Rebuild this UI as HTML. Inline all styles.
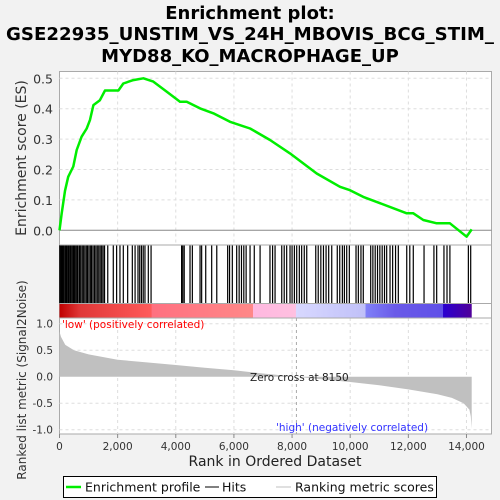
<!DOCTYPE html>
<html><head><meta charset="utf-8"><style>
html,body{margin:0;padding:0;background:#f2f2f2;}
svg{display:block;font-family:"DejaVu Sans","Liberation Sans",sans-serif;}
</style></head><body>
<svg id="c" width="500" height="500" xmlns="http://www.w3.org/2000/svg">
<rect x="0" y="0" width="500" height="500" fill="#f2f2f2"/>
<g font-weight="bold" font-size="18" text-anchor="middle" fill="#000">
<text x="250" y="19">Enrichment plot:</text>
<text x="250" y="40" textLength="488" lengthAdjust="spacingAndGlyphs">GSE22935_UNSTIM_VS_24H_MBOVIS_BCG_STIM_</text>
<text x="250" y="62">MYD88_KO_MACROPHAGE_UP</text>
</g>
<rect x="59.5" y="71.5" width="432" height="362.5" fill="#fff" stroke="#aaa"/>
<g id="grid"></g>
<g id="hits"></g>
<defs><linearGradient id="cb" x1="0" x2="1" y1="0" y2="0">
<stop offset="0" stop-color="#c00000"/><stop offset="0.05" stop-color="#e03838"/><stop offset="0.223" stop-color="#ff5a5a"/>
<stop offset="0.224" stop-color="#ff7080"/><stop offset="0.469" stop-color="#ff8888"/>
<stop offset="0.47" stop-color="#ffb8e0"/><stop offset="0.573" stop-color="#ffc0e0"/>
<stop offset="0.574" stop-color="#d8d8ff"/><stop offset="0.742" stop-color="#c0c0f8"/>
<stop offset="0.743" stop-color="#8080f8"/><stop offset="0.815" stop-color="#6a5ae8"/><stop offset="0.93" stop-color="#6050e8"/>
<stop offset="0.931" stop-color="#2a00d0"/><stop offset="1" stop-color="#500099"/>
</linearGradient></defs>
<rect id="cbar" y="303.5" height="14.5" fill="url(#cb)"/>
<line x1="59.5" x2="491.5" y1="245" y2="245" stroke="#aaa"/>
<line x1="59.5" x2="491.5" y1="303.5" y2="303.5" stroke="#aaa"/>
<line x1="59.5" x2="491.5" y1="318" y2="318" stroke="#aaa"/>
<path id="metric" fill="#c0c0c0"/>
<line id="zline" y1="318" y2="434" stroke="#aaa" stroke-dasharray="3,3"/>
<line x1="59.5" x2="491.5" y1="230.3" y2="230.3" stroke="#888"/>
<polyline id="es" fill="none" stroke="#00ee00" stroke-width="2.5" stroke-linejoin="round"/>
<g id="ax" font-size="13" fill="#333"></g>
<text x="62" y="328" font-size="10.5" fill="#ff0000">'low' (positively correlated)</text>
<text x="250" y="381" font-size="10.5" fill="#222">Zero cross at 8150</text>
<text x="276" y="431" font-size="10.5" fill="#3333ff">'high' (negatively correlated)</text>
<text x="275" y="466" font-size="14" text-anchor="middle" fill="#222">Rank in Ordered Dataset</text>
<text transform="translate(26,158) rotate(-90)" font-size="14" text-anchor="middle" fill="#333">Enrichment score (ES)</text>
<text transform="translate(26,380) rotate(-90)" font-size="12" text-anchor="middle" fill="#333">Ranked list metric (Signal2Noise)</text>
<g>
<rect x="63.5" y="476.5" width="373" height="21" fill="#fff" stroke="#000"/>
<line x1="66" x2="81" y1="487" y2="487" stroke="#00ee00" stroke-width="2.5"/>
<text x="85" y="491.5" font-size="12.5" fill="#111">Enrichment profile</text>
<line x1="205" x2="219" y1="487" y2="487" stroke="#000"/>
<text x="222" y="491.5" font-size="12.5" fill="#111">Hits</text>
<line x1="276" x2="291" y1="487" y2="487" stroke="#c0c0c0"/>
<text x="295" y="491.5" font-size="12.5" fill="#111">Ranking metric scores</text>
</g>
</svg>
<script>
const esRanks=[0,75,190,300,475,590,760,935,1050,1165,1390,1565,2025,2195,2540,2885,3225,3690,4145,4375,4835,5290,5865,6555,7240,7930,8848,9650,9993,10450,11025,11945,12170,12515,12975,13430,14005,14180];
const esValues=[0,0.056,0.13,0.176,0.21,0.264,0.308,0.335,0.363,0.412,0.428,0.46,0.46,0.483,0.494,0.5,0.489,0.456,0.423,0.423,0.401,0.385,0.357,0.335,0.297,0.253,0.187,0.143,0.132,0.11,0.089,0.056,0.056,0.034,0.023,0.023,-0.021,0.003];
const hitRanks=[10,40,70,100,130,160,200,230,260,300,330,370,400,440,480,520,560,600,640,690,730,780,820,870,920,960,1010,1060,1100,1150,1200,1250,1300,1350,1400,1450,1500,1550,1660,1850,1965,2080,2195,2345,2505,2600,2700,2760,2820,2880,2940,3055,3150,4200,4240,4290,4490,4570,4835,4890,5030,5235,5410,5785,5850,5945,6095,6180,6260,6340,6420,6555,6700,6900,7240,7330,7415,7645,7730,7815,7930,8000,8080,8160,8250,8330,8420,8505,8815,8900,8990,9080,9170,9260,9365,9555,9640,9730,9800,9880,9970,10200,10280,10370,10450,10705,10780,10860,10940,11020,11100,11180,11255,11370,11460,11560,11655,11945,12050,12170,12540,12880,12975,13225,13330,13430,14065,14145];
const metricRanks=[0,50,200,500,1000,2000,3000,4000,5000,6000,7000,8150,9000,10000,11000,12000,13000,13500,13900,14100,14150,14180];
const metricValues=[0.85,0.75,0.6,0.5,0.42,0.32,0.27,0.22,0.17,0.12,0.06,0,-0.05,-0.1,-0.16,-0.24,-0.33,-0.4,-0.5,-0.62,-0.75,-0.98];
const xTicks=[0,2000,4000,6000,8000,10000,12000,14000];
const esTicks=[0,0.1,0.2,0.3,0.4,0.5];
const esTickLabels=["0.0","0.1","0.2","0.3","0.4","0.5"];
const mTicks=[1,0.5,0,-0.5,-1];
const mTickLabels=["1.0","0.5","0.0","-0.5","-1.0"];
const zeroCross=8150, nGenes=14180;

const NS="http://www.w3.org/2000/svg";
const xs=r=>59.5+r*0.02907;
const yEs=v=>230.3-v*304;
const yM=v=>376.7-v*53;
function mk(tag,parent,attrs){const e=document.createElementNS(NS,tag);for(const k in attrs)e.setAttribute(k,attrs[k]);parent.appendChild(e);return e;}
const grid=document.getElementById('grid'),ax=document.getElementById('ax'),hits=document.getElementById('hits');
xTicks.forEach((t,i)=>{
  if(t>0){
    const g1=mk('line',grid,{x1:xs(t),x2:xs(t),y1:71.5,y2:245,stroke:'#ddd','stroke-dasharray':'3,3'});
    
    
    const g2=mk('line',grid,{x1:xs(t),x2:xs(t),y1:318,y2:434,stroke:'#ddd','stroke-dasharray':'3,3'});
    
    
  }
  const tk=mk('line',ax,{x1:xs(t),x2:xs(t),y1:434,y2:438,stroke:'#888'});
  
  
  const tx=mk('text',ax,{x:xs(t),y:450,'text-anchor':'middle','font-size':'10.5'});
  tx.textContent=t.toLocaleString('en-US');
  
  
});
esTicks.forEach((t,i)=>{
  if(t>0){const g=mk('line',grid,{x1:59.5,x2:491.5,y1:yEs(t),y2:yEs(t),stroke:'#ddd','stroke-dasharray':'3,3'});
  
  }
  const tx=mk('text',ax,{x:53,y:yEs(t)+5,'text-anchor':'end','font-size':'12.5'});
  tx.textContent=esTickLabels[i];
  
  
});
mTicks.forEach((t,i)=>{
  if(t!==0){const g=mk('line',grid,{x1:59.5,x2:491.5,y1:yM(t),y2:yM(t),stroke:'#ddd','stroke-dasharray':'3,3'});
  
  }
  const tx=mk('text',ax,{x:53,y:yM(t)+4,'text-anchor':'end','font-size':'10.5'});
  tx.textContent=mTickLabels[i];
  
  
});
hitRanks.forEach(r=>{
  const l=mk('line',hits,{x1:xs(r),x2:xs(r),y1:245,y2:303.5,stroke:'#000','stroke-width':'1.2'});
  
  
});
const cbar=document.getElementById('cbar');
cbar.setAttribute('x',xs(0));cbar.setAttribute('width',xs(nGenes)-xs(0));
document.getElementById('es').setAttribute('points',esRanks.map((r,i)=>xs(r).toFixed(1)+','+yEs(esValues[i]).toFixed(1)).join(' '));
let d='M'+xs(0)+','+yM(0);
metricRanks.forEach((r,i)=>{d+=' L'+xs(r).toFixed(1)+','+yM(metricValues[i]).toFixed(1);});
d+=' L'+xs(nGenes).toFixed(1)+','+yM(0)+' Z';
document.getElementById('metric').setAttribute('d',d);
const z=document.getElementById('zline');z.setAttribute('x1',xs(zeroCross));z.setAttribute('x2',xs(zeroCross));
</script>
</body></html>
